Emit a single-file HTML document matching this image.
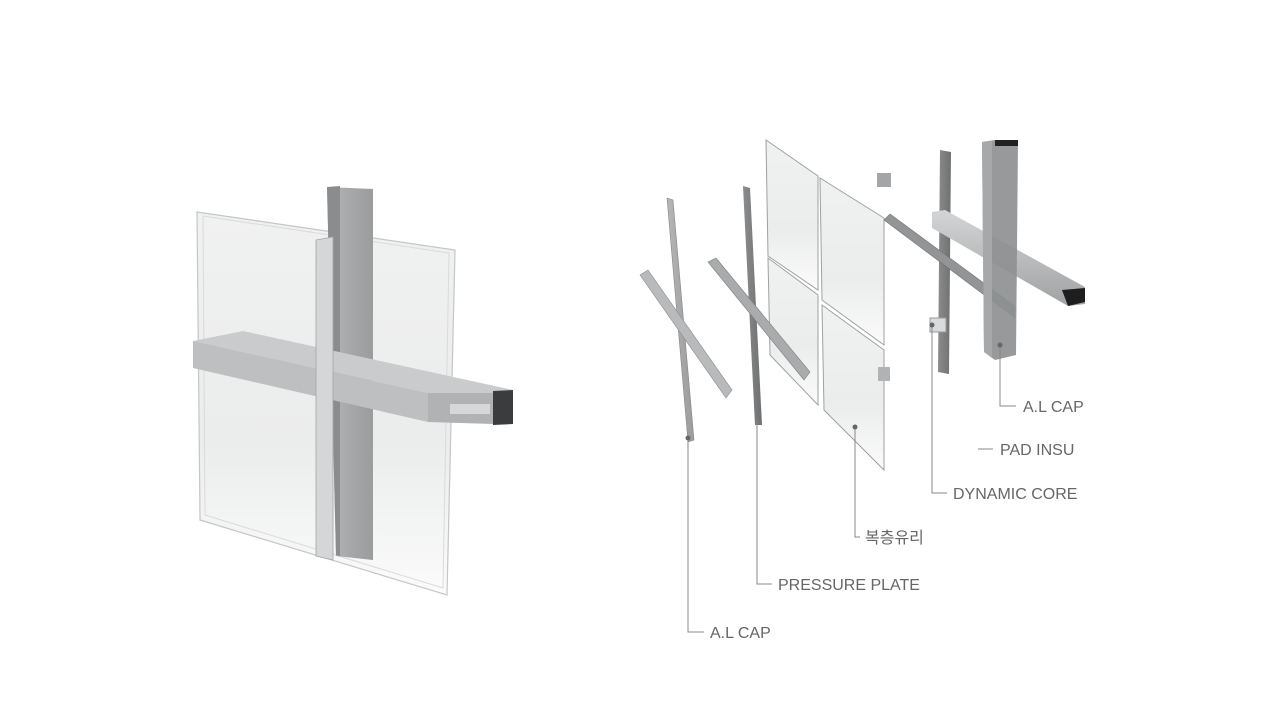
<!DOCTYPE html>
<html><head><meta charset="utf-8"><style>
html,body{margin:0;padding:0;background:#fff;}
svg{display:block}
text{font-family:"Liberation Sans","Noto Sans CJK KR",sans-serif;font-size:16px;fill:#666;}
</style></head><body>
<svg width="1280" height="720" viewBox="0 0 1280 720" xmlns="http://www.w3.org/2000/svg">
<defs>
<linearGradient id="glass" x1="0" y1="0" x2="0" y2="1"><stop offset="0" stop-color="#f0f1f1"/><stop offset="0.6" stop-color="#ebecec"/><stop offset="1" stop-color="#fbfbfb"/></linearGradient>
<linearGradient id="metal" x1="0" y1="0" x2="1" y2="0"><stop offset="0" stop-color="#b5b7b8"/><stop offset="0.5" stop-color="#a6a8a9"/><stop offset="1" stop-color="#9a9c9d"/></linearGradient>
<linearGradient id="metalH" x1="0" y1="0" x2="0" y2="1"><stop offset="0" stop-color="#d3d5d6"/><stop offset="1" stop-color="#a0a2a3"/></linearGradient>
<linearGradient id="dark" x1="0" y1="0" x2="1" y2="0"><stop offset="0" stop-color="#8a8c8d"/><stop offset="1" stop-color="#6e7071"/></linearGradient>
</defs>

<!-- LEFT ASSEMBLY -->
<polygon points="197,212 455,250 447,595 200,520" fill="url(#glass)" stroke="#c4c6c7" stroke-width="1.2"/>
<polygon points="203,216 449,253 443,588 205,515" fill="none" stroke="#d8dadb" stroke-width="1"/>
<!-- mullion core -->
<polygon points="327,187 373,189 373,560 336,556" fill="url(#metal)"/>
<polygon points="327,187 340,186 340,556 336,555" fill="#8a8c8d"/>
<!-- transom -->
<polygon points="193,341 243,331 513,390 493,393 428,393" fill="#c9cbcc"/>
<polygon points="193,341 428,393 428,422 193,368" fill="#bdbfc0"/>
<polygon points="428,393 493,393 493,424 428,422" fill="#b0b2b3"/>
<polygon points="493,391 513,390 513,424 493,425" fill="#3a3c3d"/>
<rect x="450" y="404" width="40" height="10" fill="#d5d7d8"/>
<!-- vertical cap -->
<polygon points="316,240 333,237 333,560 316,556" fill="#d4d6d7" stroke="#a4a6a7" stroke-width="0.8"/>

<!-- RIGHT EXPLODED -->
<polygon points="766,140 818,176 818,290 768,256" fill="url(#glass)" stroke="#9ea1a2"/>
<polygon points="820,178 884,218 884,345 822,300" fill="url(#glass)" stroke="#9ea1a2"/>
<polygon points="768,258 818,295 818,405 770,355" fill="url(#glass)" stroke="#9ea1a2"/>
<polygon points="822,305 884,350 884,470 824,410" fill="url(#glass)" stroke="#9ea1a2"/>
<rect x="877" y="173" width="14" height="14" fill="#a3a5a6"/>
<rect x="878" y="367" width="12" height="14" fill="#b0b2b3"/>
<!-- outer cap -->
<polygon points="667,198 673,200 694,440 688,442" fill="url(#metal)" stroke="#888" stroke-width="0.6"/>
<polygon points="640,275 648,270 732,390 726,398" fill="#b8babb" stroke="#8a8c8d" stroke-width="0.6"/>
<!-- pressure plate -->
<polygon points="743,186 750,188 762,425 755,425" fill="url(#dark)"/>
<polygon points="708,262 716,258 810,372 804,380" fill="#a9abac" stroke="#7d7f80" stroke-width="0.6"/>
<!-- dynamic core -->
<polygon points="940,150 951,152 949,374 938,372" fill="url(#dark)"/>
<polygon points="884,220 890,214 1015,306 1015,318" fill="#929495" stroke="#727475" stroke-width="0.6"/>
<rect x="930" y="318" width="16" height="14" fill="#d9dbdc" stroke="#999"/>
<!-- AL cap right -->
<polygon points="932,212 945,210 1085,287 1085,304 1068,306 932,228" fill="url(#metalH)"/>
<polygon points="982,142 995,140 1018,140 1016,355 995,360 984,352" fill="#8e9091" opacity="0.92"/>
<polygon points="982,142 992,141 992,358 984,352" fill="#a8aaab" opacity="0.9"/>
<polygon points="995,140 1018,140 1018,146 995,146" fill="#222"/>
<polygon points="1062,290 1085,288 1085,302 1068,306" fill="#1e1e1e"/>

<!-- leader lines -->
<g stroke="#888" stroke-width="1" fill="none">
<path d="M1000,345 V406 H1016"/>
<path d="M978,449 H993"/>
<path d="M932,325 V493 H947"/>
<path d="M855,427 V537 H860"/>
<path d="M757,420 V584 H772"/>
<path d="M688,440 V632 H704"/>
</g>
<g fill="#666">
<circle cx="1000" cy="345" r="2.5"/><circle cx="932" cy="325" r="2.5"/>
<circle cx="855" cy="427" r="2.5"/><circle cx="688" cy="438" r="2.5"/>
</g>
<text x="1023" y="412">A.L CAP</text>
<text x="1000" y="455">PAD INSU</text>
<text x="953" y="499">DYNAMIC CORE</text>
<text x="865" y="543">복층유리</text>
<text x="778" y="590">PRESSURE PLATE</text>
<text x="710" y="638">A.L CAP</text>
</svg>
</body></html>
